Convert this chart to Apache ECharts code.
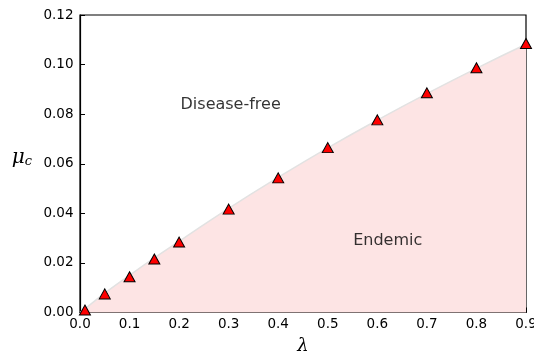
<!DOCTYPE html>
<html>
<head>
<meta charset="utf-8">
<script src="https://cdn.jsdelivr.net/npm/echarts@6/dist/echarts.min.js"></script>
<style>html,body{margin:0;padding:0;background:#fff}#c{width:534px;height:353px}</style>
</head>
<body>
<div id="c"></div>
<script>
var lambdaVals = [0.01, 0.05, 0.1, 0.15, 0.2, 0.3, 0.4, 0.5, 0.6, 0.7, 0.8, 0.9];
var muVals = [0.001, 0.0075, 0.0144, 0.0216, 0.0284, 0.0417, 0.0543, 0.0665, 0.0777, 0.0886, 0.0987, 0.1085];
var boundaryLambda = [0, 0.01, 0.05, 0.1, 0.15, 0.2, 0.3, 0.4, 0.5, 0.6, 0.7, 0.8, 0.9];
var boundaryMu = [0, 0.0015, 0.0078, 0.0150, 0.0220, 0.0287, 0.0420, 0.0545, 0.0664, 0.0776, 0.0883, 0.0985, 0.1082];
var xTicks = [0.0, 0.1, 0.2, 0.3, 0.4, 0.5, 0.6, 0.7, 0.8, 0.9];
var yTicks = [0.00, 0.02, 0.04, 0.06, 0.08, 0.10, 0.12];
var regionLabels = [
  {name: 'Disease-free', lambda: 0.304, mu: 0.0836},
  {name: 'Endemic', lambda: 0.621, mu: 0.029}
];

var font = 'DejaVu Sans';
var chart = echarts.init(document.getElementById('c'), null, {renderer: 'canvas'});
chart.setOption({
  animation: false,
  grid: {left: 80, top: 15, right: 8, bottom: 40.5, containLabel: false, outerBoundsMode: 'none',
    show: true, borderColor: '#000', borderWidth: 1.2, backgroundColor: 'transparent'},
  xAxis: {
    type: 'value', min: 0, max: 0.9, interval: 0.1,
    axisLine: {show: true, lineStyle: {color: '#000', width: 1.2}},
    axisTick: {show: true, inside: true, length: 5, lineStyle: {color: '#000'}},
    splitLine: {show: false},
    axisLabel: {color: '#000', fontFamily: font, fontSize: 13.5, margin: 5, showMaxLabel: true, hideOverlap: false,
      formatter: function (v) { return v.toFixed(1); }},
    name: 'λ', nameLocation: 'middle', nameGap: 25,
    nameTextStyle: {color: '#000', fontFamily: 'DejaVu Serif', fontStyle: 'italic', fontSize: 18}
  },
  yAxis: {
    type: 'value', min: 0, max: 0.12, interval: 0.02,
    axisLine: {show: true, lineStyle: {color: '#000', width: 1.2}},
    axisTick: {show: true, inside: true, length: 5, lineStyle: {color: '#000'}},
    splitLine: {show: false},
    axisLabel: {color: '#000', fontFamily: font, fontSize: 13.5, margin: 6.5,
      formatter: function (v) { return v.toFixed(2); }},
    name: '{m|μ}{s|c}', nameLocation: 'middle', nameGap: 48, nameRotate: 0,
    nameTextStyle: {padding: [0, 0, 12, 0], rich: {
      m: {fontFamily: 'DejaVu Serif', fontStyle: 'italic', fontSize: 20, color: '#000'},
      s: {fontFamily: 'DejaVu Serif', fontStyle: 'italic', fontSize: 13, color: '#000', verticalAlign: 'bottom', padding: [8, 0, 0, 0]}
    }}
  },
  series: [
    {
      type: 'line', data: boundaryLambda.map(function (l, i) { return [l, boundaryMu[i]]; }),
      smooth: true, showSymbol: false, symbol: 'none',
      lineStyle: {color: '#e2e2e2', width: 1.5},
      areaStyle: {color: '#fde4e4', opacity: 1},
      z: 1, silent: true
    },
    {
      type: 'scatter', data: lambdaVals.map(function (l, i) { return [l, muVals[i]]; }),
      symbol: 'triangle', symbolSize: [11, 10],
      itemStyle: {color: '#ff0000', borderColor: '#000', borderWidth: 1, opacity: 1},
      z: 5, clip: false
    },
    {
      type: 'scatter', data: regionLabels.map(function (r) { return {name: r.name, value: [r.lambda, r.mu]}; }),
      symbolSize: 0,
      label: {show: true, position: 'inside', formatter: '{b}', color: '#000', fontFamily: font, fontSize: 16, textBorderWidth: 0},
      z: 6, silent: true
    }
  ]
});
</script>
</body>
</html>
